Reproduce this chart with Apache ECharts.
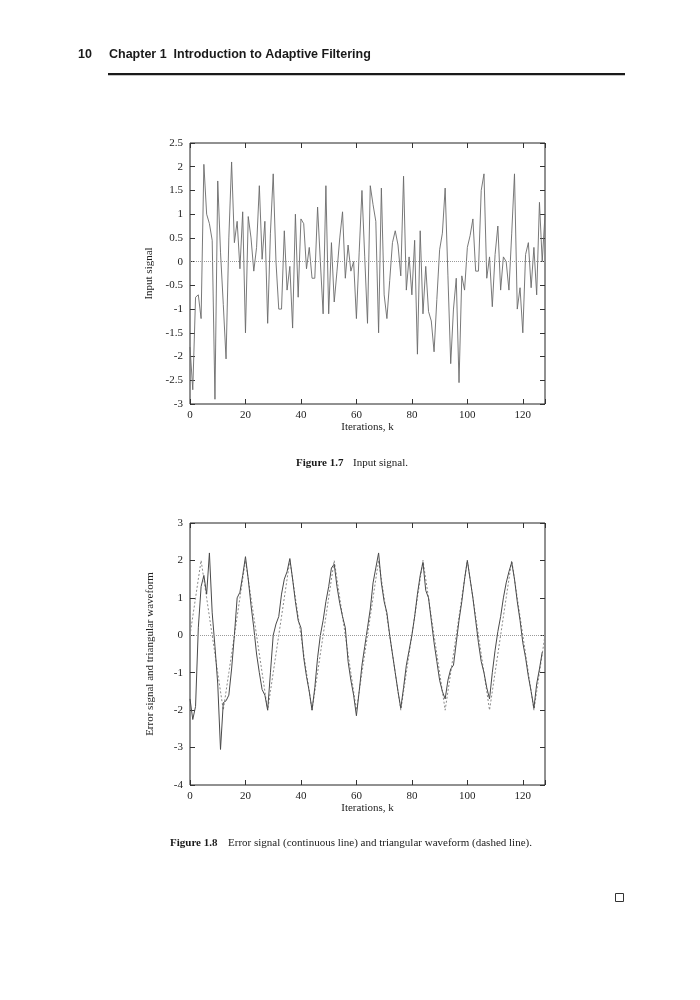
<!DOCTYPE html>
<html><head><meta charset="utf-8">
<script src="https://cdn.jsdelivr.net/npm/echarts@6/dist/echarts.min.js"></script>
<style>html,body{margin:0;padding:0;background:#fff}#c{width:700px;height:1000px}</style>
</head><body><div id="c"></div>
<script>
// Figure 1.7: input signal, k = 0..128
const inputSignal = [
  -1.8, -2.7, -0.75, -0.7, -1.2, 2.05, 1.0, 0.8, 0.45, -2.9,
  1.7, 0.2, -0.9, -2.05, 0.5, 2.1, 0.4, 0.85, -0.15, 1.05,
  -1.5, 0.95, 0.5, -0.2, 0.3, 1.6, 0.05, 0.85, -1.3, 0.6,
  1.85, 0.0, -1.0, -1.0, 0.65, -0.6, -0.1, -1.4, 1.0, -0.75,
  0.9, 0.8, -0.15, 0.3, -0.35, -0.35, 1.15, 0.0, -1.1, 1.6,
  -1.1, 0.4, -0.85, -0.2, 0.5, 1.05, -0.35, 0.35, -0.2, 0.0,
  -1.2, 0.2, 1.5, 0.1, -1.3, 1.6, 1.2, 0.85, -1.5, 1.55,
  -0.7, -1.2, -0.4, 0.4, 0.65, 0.35, -0.3, 1.8, -0.6, 0.1,
  -0.7, 0.45, -1.95, 0.65, -1.1, -0.1, -1.05, -1.25, -1.9, -0.8,
  0.25, 0.6, 1.55, -0.3, -2.15, -1.0, -0.35, -2.55, -0.3, -0.6,
  0.3, 0.55, 0.9, -0.2, -0.2, 1.5, 1.85, -0.35, 0.1, -0.95,
  0.15, 0.75, -0.6, 0.1, 0.0, -0.6, 0.6, 1.85, -1.0, -0.55,
  -1.5, 0.15, 0.4, -0.55, 0.3, -0.7, 1.25, 0.0, 1.0
];
// Figure 1.8: error signal (continuous), k = 0..127
const errorSignal = [
  -1.7, -2.25, -1.9, 0.2, 1.3, 1.6, 1.1, 2.2, 0.6, -0.3,
  -1.3, -3.05, -1.8, -1.75, -1.6, -0.9, 0.0, 1.0, 1.15, 1.6,
  2.1, 1.5, 0.8, 0.2, -0.5, -1.0, -1.45, -1.6, -2.0, -1.0,
  0.0, 0.3, 0.5, 1.1, 1.5, 1.7, 2.05, 1.5, 0.9, 0.4,
  0.2, -0.6, -1.1, -1.5, -2.0, -1.4, -0.6, 0.0, 0.4, 0.9,
  1.3, 1.8, 1.9, 1.3, 0.85, 0.5, 0.2, -0.7, -1.2, -1.6,
  -2.15, -1.5, -0.8, -0.3, 0.2, 0.7, 1.4, 1.8, 2.2, 1.4,
  0.9, 0.6, 0.0, -0.5, -1.0, -1.5, -1.95, -1.4, -0.8, -0.4,
  0.0, 0.5, 1.1, 1.6, 1.95, 1.2, 1.0, 0.4, -0.2, -0.7,
  -1.2, -1.5, -1.7, -1.2, -0.9, -0.8, -0.2, 0.4, 0.9, 1.5,
  2.0, 1.5, 1.0, 0.4, -0.2, -0.7, -1.0, -1.4, -1.7, -1.0,
  -0.4, 0.1, 0.5, 1.0, 1.4, 1.7, 1.95, 1.5, 0.9, 0.4,
  -0.2, -0.6, -1.1, -1.5, -1.95, -1.3, -0.9, -0.45
];
// Figure 1.8: triangular waveform (dashed), k = 0..128
const triangleWave = [
  0, 0.5, 1, 1.5, 2, 1.5, 1, 0.5, 0, -0.5, -1, -1.5, -2, -1.5, -1, -0.5,
  0, 0.5, 1, 1.5, 2, 1.5, 1, 0.5, 0, -0.5, -1, -1.5, -2, -1.5, -1, -0.5,
  0, 0.5, 1, 1.5, 2, 1.5, 1, 0.5, 0, -0.5, -1, -1.5, -2, -1.5, -1, -0.5,
  0, 0.5, 1, 1.5, 2, 1.5, 1, 0.5, 0, -0.5, -1, -1.5, -2, -1.5, -1, -0.5,
  0, 0.5, 1, 1.5, 2, 1.5, 1, 0.5, 0, -0.5, -1, -1.5, -2, -1.5, -1, -0.5,
  0, 0.5, 1, 1.5, 2, 1.5, 1, 0.5, 0, -0.5, -1, -1.5, -2, -1.5, -1, -0.5,
  0, 0.5, 1, 1.5, 2, 1.5, 1, 0.5, 0, -0.5, -1, -1.5, -2, -1.5, -1, -0.5,
  0, 0.5, 1, 1.5, 2, 1.5, 1, 0.5, 0, -0.5, -1, -1.5, -2, -1.5, -1, -0.5,
  0
];
const xTickStep = 20;
const xRange = [0, 128];
const yRange1 = [-3, 2.5];
const yStep1 = 0.5;
const yRange2 = [-4, 3];
const yStep2 = 1;

const SERIF = '"Liberation Serif","DejaVu Serif",serif';
const SANS = '"Liberation Sans",Arial,sans-serif';
const toPairs = arr => arr.map((v, i) => [i, v]);

function xAxisDef(gi, top, name, gap) {
  return {
    type: 'value', gridIndex: gi, position: top ? 'top' : 'bottom',
    min: xRange[0], max: xRange[1], interval: xTickStep,
    axisLine: { show: false, onZero: false },
    axisTick: { show: true, inside: true, length: 5, lineStyle: { color: '#333', width: 1 } },
    axisLabel: top ? { show: false } : {
      show: true, margin: 6, color: '#222', fontFamily: SERIF, fontSize: 11,
      formatter: v => (v % xTickStep === 0 ? String(v) : '')
    },
    splitLine: { show: false },
    name: top ? '' : name, nameLocation: 'middle', nameGap: gap,
    nameTextStyle: { fontFamily: SERIF, fontSize: 11, color: '#222' }
  };
}
function yAxisDef(gi, right, range, step, name, gap) {
  return {
    type: 'value', gridIndex: gi, position: right ? 'right' : 'left',
    min: range[0], max: range[1], interval: step,
    axisLine: { show: false, onZero: false },
    axisTick: { show: true, inside: true, length: 5, lineStyle: { color: '#333', width: 1 } },
    axisLabel: right ? { show: false } : {
      show: true, margin: 7, color: '#222', fontFamily: SERIF, fontSize: 11,
      formatter: v => String(v)
    },
    splitLine: { show: false },
    name: right ? '' : name, nameLocation: 'middle', nameGap: gap, nameRotate: 90,
    nameTextStyle: { fontFamily: SERIF, fontSize: 11, color: '#222' }
  };
}
const zeroLine = {
  silent: true, symbol: ['none', 'none'], label: { show: false },
  lineStyle: { color: '#9a9a9a', type: [1, 1], width: 1 },
  data: [{ yAxis: 0 }]
};

function txt(text, x, y, font, align) {
  return { type: 'text', x: 0, y: 0, silent: true,
    style: { text, x, y, font, fill: '#1a1a1a', align: align || 'left', textAlign: align || 'left',
      verticalAlign: 'middle', textVerticalAlign: 'middle' } };
}

const chart = echarts.init(document.getElementById('c'), null, { renderer: 'canvas' });
chart.setOption({
  animation: false,
  backgroundColor: '#fff',
  grid: [
    { left: 190, top: 143, width: 355, height: 261, show: true, borderColor: '#222', borderWidth: 1, backgroundColor: 'transparent' },
    { left: 190, top: 523, width: 355, height: 262, show: true, borderColor: '#222', borderWidth: 1, backgroundColor: 'transparent' }
  ],
  xAxis: [
    xAxisDef(0, false, 'Iterations, k', 18),
    xAxisDef(0, true),
    xAxisDef(1, false, 'Iterations, k', 18),
    xAxisDef(1, true)
  ],
  yAxis: [
    yAxisDef(0, false, yRange1, yStep1, 'Input signal', 34),
    yAxisDef(0, true, yRange1, yStep1),
    yAxisDef(1, false, yRange2, yStep2, 'Error signal and triangular waveform', 34),
    yAxisDef(1, true, yRange2, yStep2)
  ],
  series: [
    { name: 'Input signal', type: 'line', xAxisIndex: 0, yAxisIndex: 0, data: toPairs(inputSignal),
      symbol: 'none', lineStyle: { color: '#6a6a6a', width: 0.9 }, markLine: zeroLine },
    { name: 'Triangular waveform', type: 'line', xAxisIndex: 2, yAxisIndex: 2, data: toPairs(triangleWave),
      symbol: 'none', lineStyle: { color: '#8a8a8a', width: 1, type: [2, 2] }, markLine: zeroLine },
    { name: 'Error signal', type: 'line', xAxisIndex: 2, yAxisIndex: 2, data: toPairs(errorSignal),
      symbol: 'none', lineStyle: { color: '#4a4a4a', width: 1 } }
  ],
  graphic: [
    txt('10', 78, 55, 'bold 12.5px ' + SANS),
    txt('Chapter 1  Introduction to Adaptive Filtering', 109, 55, 'bold 12.5px ' + SANS),
    { type: 'rect', silent: true, shape: { x: 108, y: 73, width: 517, height: 2.2 }, style: { fill: '#1a1a1a' } },
    txt('Figure 1.7', 296, 463, 'bold 11px ' + SERIF),
    txt('Input signal.', 353, 463, '11px ' + SERIF),
    txt('Figure 1.8', 170, 843, 'bold 11px ' + SERIF),
    txt('Error signal (continuous line) and triangular waveform (dashed line).', 228, 843, '11px ' + SERIF),
    { type: 'rect', silent: true, shape: { x: 615.5, y: 893.5, width: 8, height: 8 }, style: { fill: 'none', stroke: '#333', lineWidth: 1 } }
  ]
});
</script></body></html>
